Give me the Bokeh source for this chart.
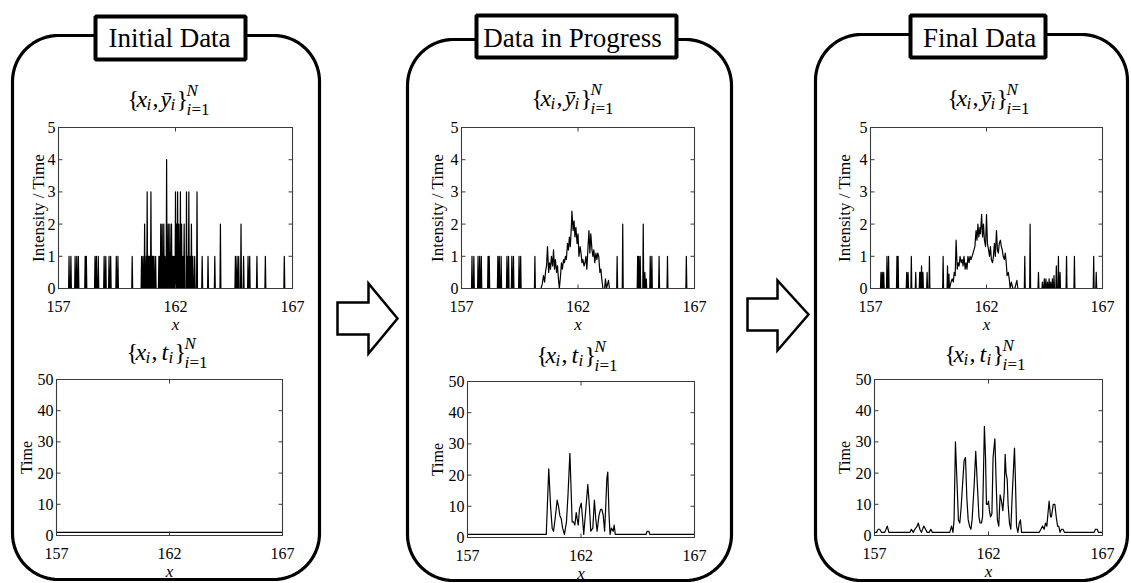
import math
import numpy as np
from bokeh.plotting import figure
from bokeh.models import Range1d
from bokeh.core.properties import value
from bokeh.embed import file_html
from bokeh.resources import INLINE

# ---------------- data ----------------
X_TICKS = [157, 162, 167]
X_TICK_LABELS = ["157", "162", "167"]
INT_TICKS = [0, 1, 2, 3, 4, 5]
INT_TICK_LABELS = ["0", "1", "2", "3", "4", "5"]
TIME_TICKS = [0, 10, 20, 30, 40, 50]
TIME_TICK_LABELS = ["0", "10", "20", "30", "40", "50"]
PANEL_TITLES = ["Initial Data", "Data in Progress", "Final Data"]

# Panel 1, intensity/time: isolated counts
p1_spike_x = [157.45, 157.53, 157.71, 157.78, 157.85, 158.14, 158.19, 158.56, 158.62, 158.70,
              158.95, 159.02, 159.16, 159.23, 159.47, 159.54, 160.15, 160.55, 160.61, 160.68,
              160.75, 160.79, 160.83, 160.86, 160.88, 160.91, 160.93, 160.95, 160.98, 161.00,
              161.03, 161.05, 161.08, 161.15, 161.29, 161.33, 161.37, 161.43, 161.50, 161.55,
              161.62, 161.69, 161.76, 161.83, 161.89, 161.94, 162.00, 162.04, 162.09, 162.14,
              162.21, 162.26, 162.31, 162.37, 162.47, 162.53, 162.57, 162.63, 162.68, 162.74,
              162.82, 162.92, 163.14, 163.39, 163.68, 163.92, 164.56, 164.63, 164.70, 164.80,
              164.91, 165.10, 165.17, 165.48, 165.84, 166.65]
p1_spike_h = [1, 1, 1, 1, 1, 1, 1, 1, 1, 1,
              1, 1, 1, 1, 1, 1, 1, 1, 1, 2,
              1, 3, 1, 1, 1, 1, 1, 3, 1, 1,
              1, 1, 1, 1, 1, 1, 2, 2, 2, 1,
              4, 2, 2, 2, 1, 1, 3, 2, 3, 2,
              3, 2, 1, 2, 3, 1, 3, 1, 2, 1,
              1, 3, 1, 1, 1, 2, 1, 1, 1, 2,
              1, 1, 1, 1, 1, 1]
p1_time_x = [157.0, 167.0]
p1_time_t = [1, 1]

# shared x grid of the smoothed central region (panels 2 and 3)
mid_x = [160.41, 160.47, 160.52, 160.57, 160.61, 160.65, 160.69, 160.74, 160.78, 160.82,
         160.86, 160.91, 160.95, 160.99, 161.03, 161.08, 161.12, 161.16, 161.20, 161.25,
         161.29, 161.33, 161.38, 161.42, 161.46, 161.50, 161.55, 161.59, 161.63, 161.67,
         161.72, 161.74, 161.79, 161.83, 161.87, 161.91, 161.96, 162.00, 162.04, 162.09,
         162.13, 162.17, 162.21, 162.26, 162.30, 162.34, 162.38, 162.43, 162.47, 162.51,
         162.55, 162.60, 162.64, 162.68, 162.72, 162.77, 162.81, 162.85, 162.89, 162.94,
         162.98, 163.02, 163.07, 163.14, 163.18, 163.22, 163.31, 163.35]

# Panel 2, intensity/time
p2_left_x = [157.45, 157.53, 157.71, 157.78, 157.85, 158.14, 158.19, 158.56, 158.62, 158.70,
             158.95, 159.02, 159.16, 159.23, 159.47, 159.54, 160.15]
p2_left_h = [1, 1, 1, 1, 1, 1, 1, 1, 1, 1, 1, 1, 1, 1, 1, 1, 1]
p2_mid_y = [0, 0.15, 0.4, 0.2, 0.55, 0.7, 1.3, 0.5, 0.8, 0.6,
            1.0, 0.7, 1.2, 0.6, 0.9, 0.5, 0.7, 0.3, 0.0, 0.4,
            0.8, 0.6, 0.9, 0.8, 1.0, 0.9, 1.4, 1.2, 1.6, 1.3,
            2.0, 2.4, 1.8, 2.1, 1.6, 1.9, 1.4, 1.7, 1.0, 1.3,
            1.1, 0.8, 0.9, 0.7, 0.8, 1.0, 0.6, 1.3, 1.8, 1.1,
            1.7, 1.2, 1.0, 1.2, 0.8, 1.1, 0.9, 1.1, 1.0, 0.5,
            0.6, 0.3, 0.0, 0.0, 0.3, 0.0, 0.25, 0.0]
p2_right_x = [163.68, 163.92, 164.56, 164.61, 164.67, 164.80, 164.87, 164.93, 165.10, 165.17,
              165.48, 165.84, 166.65]
p2_right_h = [1, 2, 1, 1, 1, 2, 0.5, 0.3, 1, 1, 1, 1, 1]
# Panel 2, time
p2_time_x = [157.00, 160.47, 160.58, 160.66, 160.73, 160.79, 160.86, 160.95, 161.01, 161.07,
             161.13, 161.19, 161.27, 161.36, 161.43, 161.51, 161.57, 161.61, 161.67, 161.73,
             161.79, 161.83, 161.88, 161.93, 162.01, 162.07, 162.12, 162.20, 162.30, 162.37,
             162.43, 162.52, 162.59, 162.65, 162.71, 162.79, 162.86, 162.92, 162.98, 163.04,
             163.09, 163.14, 163.18, 163.23, 163.28, 163.34, 163.42, 163.46, 163.51, 164.87,
             164.91, 164.99, 165.03, 167.00]
p2_time_t = [1, 1, 22, 10, 3, 2, 6, 12, 10, 7,
             6, 3, 1, 5, 14, 27, 14, 5, 5, 4,
             8, 6, 4, 9, 11, 6, 1, 8, 17, 10,
             2, 3, 12, 6, 2, 7, 9, 9, 7, 2,
             10, 19, 21, 8, 1, 3, 2, 4, 1, 1,
             2, 2, 1, 1]

# Panel 3, intensity/time
p3_left_x = [157.45, 157.51, 157.57, 157.71, 157.78, 158.14, 158.19, 158.56, 158.62, 158.76,
             158.95, 159.12, 159.16, 159.20, 159.26, 159.44, 159.54, 160.13, 160.32, 160.38]
p3_left_h = [0.5, 0.5, 0.5, 1, 1, 1, 1, 0.5, 0.5, 1,
             0.5, 0.5, 0.5, 0.7, 0.5, 0.5, 1, 1, 0.7, 0.45]
p3_mid_y = [0, 0.2, 0.3, 0.2, 0.5, 0.4, 1.5, 0.6, 0.8, 0.7,
            1.0, 0.8, 0.9, 0.7, 1.0, 0.6, 0.8, 0.6, 1.0, 0.8,
            1.0, 0.9, 1.0, 1.1, 1.2, 1.3, 1.8, 1.5, 2.0, 1.6,
            1.9, 1.7, 2.3, 1.6, 2.0, 1.5, 1.3, 2.3, 1.4, 1.2,
            1.0, 1.3, 0.9, 0.8, 1.0, 1.4, 1.0, 1.8, 1.2, 1.1,
            1.4, 1.5, 1.3, 1.2, 1.0, 0.9, 1.1, 0.8, 0.4, 0.5,
            0.3, 0.0, 0.2, 0.0, 0.0, 0.0, 0.25, 0.0]
p3_right_x = [163.65, 163.88, 164.24, 164.41, 164.49, 164.56, 164.63, 164.70, 164.77, 164.84,
              164.91, 165.01, 165.10, 165.17, 165.45, 165.79, 166.62, 166.73]
p3_right_h = [1, 2, 0.5, 0.2, 0.3, 0.3, 0.2, 0.3, 0.2, 0.3,
              0.4, 0.7, 1, 0.5, 1, 1, 1, 0.5]
# Panel 3, time
p3_time_x = [157.00, 157.09, 157.16, 157.23, 157.31, 157.45, 157.56, 157.63,
             158.55, 158.62, 158.70, 158.77, 158.87, 158.92, 158.99, 159.06,
             159.16, 159.24, 159.31, 159.40, 159.47, 159.54,
             160.30, 160.38, 160.44, 160.49, 160.55, 160.63, 160.68, 160.74, 160.79, 160.86,
             160.93, 160.99, 161.05, 161.11, 161.17, 161.23, 161.28, 161.37, 161.44, 161.52,
             161.58, 161.63, 161.69, 161.74, 161.78, 161.82, 161.87, 161.91, 161.96, 162.00,
             162.04, 162.09, 162.15, 162.20, 162.28, 162.34, 162.39, 162.45, 162.51, 162.57,
             162.63, 162.69, 162.73, 162.77, 162.82, 162.86, 162.92, 162.98, 163.04, 163.10,
             163.14, 163.18, 163.23, 163.29, 163.35, 163.40, 163.45,
             164.22, 164.30, 164.37, 164.44, 164.50, 164.56, 164.62, 164.66, 164.72, 164.76,
             164.84, 164.91, 164.97, 165.03, 165.08, 165.14, 165.20, 165.27, 165.33,
             166.63, 166.69, 166.77, 166.82, 167.00]
p3_time_t = [1, 1, 2, 2, 1, 1, 3, 1,
             1, 2, 1, 2, 3, 4, 2, 1,
             3, 2, 1, 1, 2, 1,
             1, 3, 1, 5, 30, 15, 5, 4, 8, 16,
             24, 25, 12, 5, 3, 2, 5, 16, 27, 15,
             6, 4, 4, 6, 20, 35, 25, 10, 10, 11,
             8, 6, 7, 25, 31, 16, 5, 3, 13, 11,
             8, 14, 26, 20, 18, 10, 4, 2, 13, 22,
             28, 18, 3, 1, 4, 5, 1,
             1, 2, 3, 2, 4, 3, 8, 11, 6, 6,
             10, 10, 6, 3, 3, 1, 2, 2, 1,
             1, 2, 2, 1, 1]

# ---------------- helpers ----------------
SPIKE_HALF = 0.02
MID = 0.33  # em fraction between alphabetic baseline and "middle"


def spikes(xs, hs):
    px, py = [], []
    for x, h in sorted(zip(xs, hs)):
        px += [x - SPIKE_HALF, x, x + SPIKE_HALF]
        py += [0, h, 0]
    return px, py


def intensity_series(parts):
    px, py = [157.0], [0.0]
    for kind, a, b in parts:
        if kind == "spikes":
            sx, sy = spikes(a, b)
        else:
            sx, sy = list(a), list(b)
        px += sx
        py += sy
    px.append(167.0)
    py.append(0.0)
    return px, py


FONT = value("Liberation Serif")
BLACK = "#000000"
FRAME = "#3a3a3a"

W, H = 1130, 582
p = figure(width=W, height=H, x_range=Range1d(0, W), y_range=Range1d(H, 0),
           output_backend="svg", toolbar_location=None, min_border=0)
p.axis.visible = False
p.grid.visible = False
p.outline_line_color = None
p.background_fill_color = "white"
p.border_fill_color = "white"

# layout (reference pixel coordinates)
PANELS = [
    dict(box=(12, 319, 35, 579), tbox=(95, 245, 16, 59), tx=169,
         top=(58, 292, 127, 288), bot=(56, 282, 379, 535),
         mt=(128, 106), mb=(127, 359), ylab_top=-20, ylab_bot=-30),
    dict(box=(407, 731, 39, 580), tbox=(476, 676, 15, 57), tx=572,
         top=(461, 694, 127, 288), bot=(467, 694, 381, 537),
         mt=(532, 105), mb=(537, 362), ylab_top=-24, ylab_bot=-30),
    dict(box=(815, 1127, 34, 580), tbox=(910, 1045, 15, 57), tx=979,
         top=(870, 1102, 127, 288), bot=(874, 1102, 379, 535),
         mt=(948, 105), mb=(945, 361), ylab_top=-26, ylab_bot=-30),
]


def rounded_box(x0, x1, y0, y1, r, n=20):
    xs, ys = [], []
    corners = [(x1 - r, y0 + r, -90, 0), (x1 - r, y1 - r, 0, 90),
               (x0 + r, y1 - r, 90, 180), (x0 + r, y0 + r, 180, 270)]
    for cx, cy, a0, a1 in corners:
        th = np.radians(np.linspace(a0, a1, n))
        xs += list(cx + r * np.cos(th))
        ys += list(cy + r * np.sin(th))
    xs.append(xs[0])
    ys.append(ys[0])
    return xs, ys


def draw_axes(frame, yr, yticks, ylabels, ylabel, ylab_dx, ylab_size, series_x, series_y):
    x0, x1, yt, yb = frame
    sub = p.subplot(x_source=Range1d(157, 167), y_source=Range1d(yr[0], yr[1]),
                    x_target=Range1d(x0, x1), y_target=Range1d(yb, yt))
    dx = 10.0 / (x1 - x0)
    dy = (yr[1] - yr[0]) / (yb - yt)
    ymin, ymax = yr
    # data
    sub.line(series_x, series_y, line_color=BLACK, line_width=1.2, line_join="round")
    # frame
    sub.quad(left=[157], right=[167], bottom=[ymin], top=[ymax],
             fill_color=None, line_color=FRAME, line_width=1.1)
    tl = 4
    n = len(X_TICKS)
    sub.segment(x0=X_TICKS, y0=[ymin] * n, x1=X_TICKS, y1=[ymin + tl * dy] * n,
                line_color=FRAME, line_width=1)
    sub.segment(x0=X_TICKS, y0=[ymax] * n, x1=X_TICKS, y1=[ymax - tl * dy] * n,
                line_color=FRAME, line_width=1)
    m = len(yticks)
    sub.segment(x0=[157] * m, y0=yticks, x1=[157 + tl * dx] * m, y1=yticks,
                line_color=FRAME, line_width=1)
    sub.segment(x0=[167] * m, y0=yticks, x1=[167 - tl * dx] * m, y1=yticks,
                line_color=FRAME, line_width=1)
    # tick labels (baseline 23.5 px under the frame)
    sub.text(x=X_TICKS, y=[ymin - (23.5 - MID * 16) * dy] * n, text=X_TICK_LABELS,
             text_font=FONT, text_font_size="16px", text_align="center",
             text_baseline="middle", text_color=BLACK)
    sub.text(x=[157 - 3 * dx] * m, y=yticks, text=ylabels,
             text_font=FONT, text_font_size="16px", text_align="right",
             text_baseline="middle", text_color=BLACK)
    sub.text(x=[162], y=[ymin - (42 - MID * 17) * dy], text=["x"], text_font=FONT,
             text_font_style="italic", text_font_size="17px", text_align="center",
             text_baseline="middle", text_color=BLACK)
    sub.text(x=[157 + ylab_dx * dx], y=[(ymin + ymax) / 2.0], text=[ylabel],
             angle=math.pi / 2, text_font=FONT, text_font_size=ylab_size,
             text_align="center", text_baseline="middle", text_color=BLACK)


# math title pieces: (text, dx, dy, style, size)
YBAR_PARTS = [("{", -1, 0, "normal", 24), ("x", 8, 0, "italic", 24), ("i", 18, 4, "italic", 17),
              (",", 24, 0, "normal", 24), ("\u0233", 32, 0, "italic", 24), ("i", 42, 4, "italic", 17),
              ("}", 48, 0, "normal", 24), ("N", 58, -10, "italic", 17), ("i", 58, 9, "italic", 17),
              ("=1", 63, 9, "normal", 17)]
T_PARTS = [("{", -1, 0, "normal", 24), ("x", 8, 0, "italic", 24), ("i", 18, 4, "italic", 17),
           (",", 24, 0, "normal", 24), ("t", 34, 0, "italic", 24), ("i", 41, 4, "italic", 17),
           ("}", 47, 0, "normal", 24), ("N", 57, -10, "italic", 17), ("i", 57, 9, "italic", 17),
           ("=1", 62, 9, "normal", 17)]

math_groups = {}


def add_math(L, B, parts):
    for txt, ddx, ddy, style, size in parts:
        g = math_groups.setdefault((style, size), ([], [], []))
        g[0].append(L + ddx)
        g[1].append(B + ddy - MID * size)
        g[2].append(txt)


series_top = [
    intensity_series([("spikes", p1_spike_x, p1_spike_h)]),
    intensity_series([("spikes", p2_left_x, p2_left_h), ("curve", mid_x, p2_mid_y),
                      ("spikes", p2_right_x, p2_right_h)]),
    intensity_series([("spikes", p3_left_x, p3_left_h), ("curve", mid_x, p3_mid_y),
                      ("spikes", p3_right_x, p3_right_h)]),
]
series_bot = [(p1_time_x, p1_time_t), (p2_time_x, p2_time_t), (p3_time_x, p3_time_t)]

# outer rounded boxes
for pan in PANELS:
    bx, by = rounded_box(*pan["box"], r=46)
    p.line(bx, by, line_color=BLACK, line_width=3.2, line_join="round")

# arrows
ARROWS = [
    ([337, 368, 368, 397, 368, 368, 337], [302, 302, 283, 318, 353, 334, 334]),
    ([747, 777, 777, 808, 777, 777, 747], [298, 298, 280, 314, 350, 330, 330]),
]
for ax_, ay_ in ARROWS:
    p.patch(ax_, ay_, fill_color="white", line_color=BLACK, line_width=2.5, line_join="miter")

for i, pan in enumerate(PANELS):
    l, r, t, b = pan["tbox"]
    p.quad(left=[l], right=[r], top=[t], bottom=[b], fill_color="white",
           line_color=BLACK, line_width=4)
    p.text(x=[pan["tx"]], y=[46.5 - MID * 27], text=[PANEL_TITLES[i]], text_font=FONT,
           text_font_size="27px", text_align="center", text_baseline="middle",
           text_color=BLACK)
    sx, sy = series_top[i]
    draw_axes(pan["top"], (0, 5), INT_TICKS, INT_TICK_LABELS, "Intensity / Time",
              pan["ylab_top"], "17px", sx, sy)
    tx_, tt_ = series_bot[i]
    draw_axes(pan["bot"], (0, 50), TIME_TICKS, TIME_TICK_LABELS, "Time",
              pan["ylab_bot"], "16px", tx_, tt_)
    add_math(pan["mt"][0], pan["mt"][1], YBAR_PARTS)
    add_math(pan["mb"][0], pan["mb"][1], T_PARTS)

for (style, size), (gx, gy, gt) in math_groups.items():
    p.text(x=gx, y=gy, text=gt, text_font=FONT, text_font_style=style,
           text_font_size=f"{size}px", text_align="left", text_baseline="middle",
           text_color=BLACK)

open("out.html", "w").write(file_html(p, INLINE))
